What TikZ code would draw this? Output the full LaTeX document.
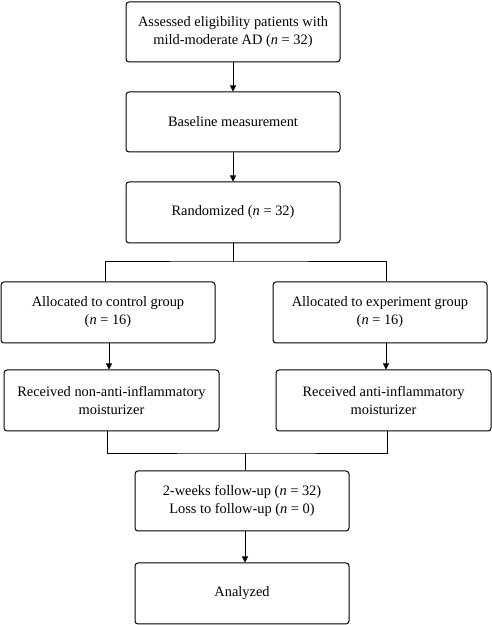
\documentclass[tikz,border=0pt]{standalone}
\usepackage{fontspec}
\setmainfont{Liberation Serif}
\usetikzlibrary{arrows.meta}
\begin{document}
\begin{tikzpicture}[x=1pt,y=1pt,
  box/.style={draw=black, line width=1pt, rounded corners=3pt, minimum width=214pt, minimum height=60pt, align=center, inner sep=0pt, font=\fontsize{14.4}{18}\selectfont},
  arr/.style={line width=0.7pt, -{Triangle[length=6pt,width=6pt]}},
  ln/.style={line width=0.7pt}]
\useasboundingbox (0,0) rectangle (492,625);
\node[box] (b1) at (233,593) {Assessed eligibility patients with\\mild-moderate AD (\textit{n} = 32)};
\node[box] (b2) at (233,503) {Baseline measurement};
\node[box, minimum height=61pt] (b3) at (233,412.5) {Randomized (\textit{n} = 32)};
\node[box, minimum height=61pt] (a) at (108,312.5) {Allocated to control group\\(\textit{n} = 16)};
\node[box, minimum height=61pt] (b) at (380,312.5) {Allocated to experiment group\\(\textit{n} = 16)};
\node[box, minimum width=215pt, minimum height=61pt] (c) at (111.5,224.5) {Received non-anti-inflammatory\\moisturizer};
\node[box, minimum width=215pt, minimum height=61pt] (d) at (383.5,224.5) {Received anti-inflammatory\\moisturizer};
\node[box] (e) at (242,124) {2-weeks follow-up (\textit{n} = 32)\\Loss to follow-up (\textit{n} = 0)};
\node[box, minimum height=61pt] (f) at (242,31.5) {Analyzed};
\draw[arr] (b1) -- (b2);
\draw[arr] (b2) -- (b3);
\coordinate (j) at (233,364);
\draw[ln] (b3.south) -- (j);
\draw[ln] ([xshift=-3pt]a.north) |- (j) -| ([xshift=6pt]b.north);
\draw[arr] ([xshift=1pt]a.south) -- ([xshift=1pt]a.south |- c.north);
\draw[arr] ([xshift=6pt]b.south) -- ([xshift=6pt]b.south |- d.north);
\coordinate (m) at (245,172);
\draw[ln] ([xshift=-4.5pt]c.south) |- (m) -| ([xshift=3.5pt]d.south);
\draw[ln] (m) -- (m |- e.north);
\draw[arr] ([xshift=3pt]e.south) -- ([xshift=3pt]e.south |- f.north);
\end{tikzpicture}
\end{document}
